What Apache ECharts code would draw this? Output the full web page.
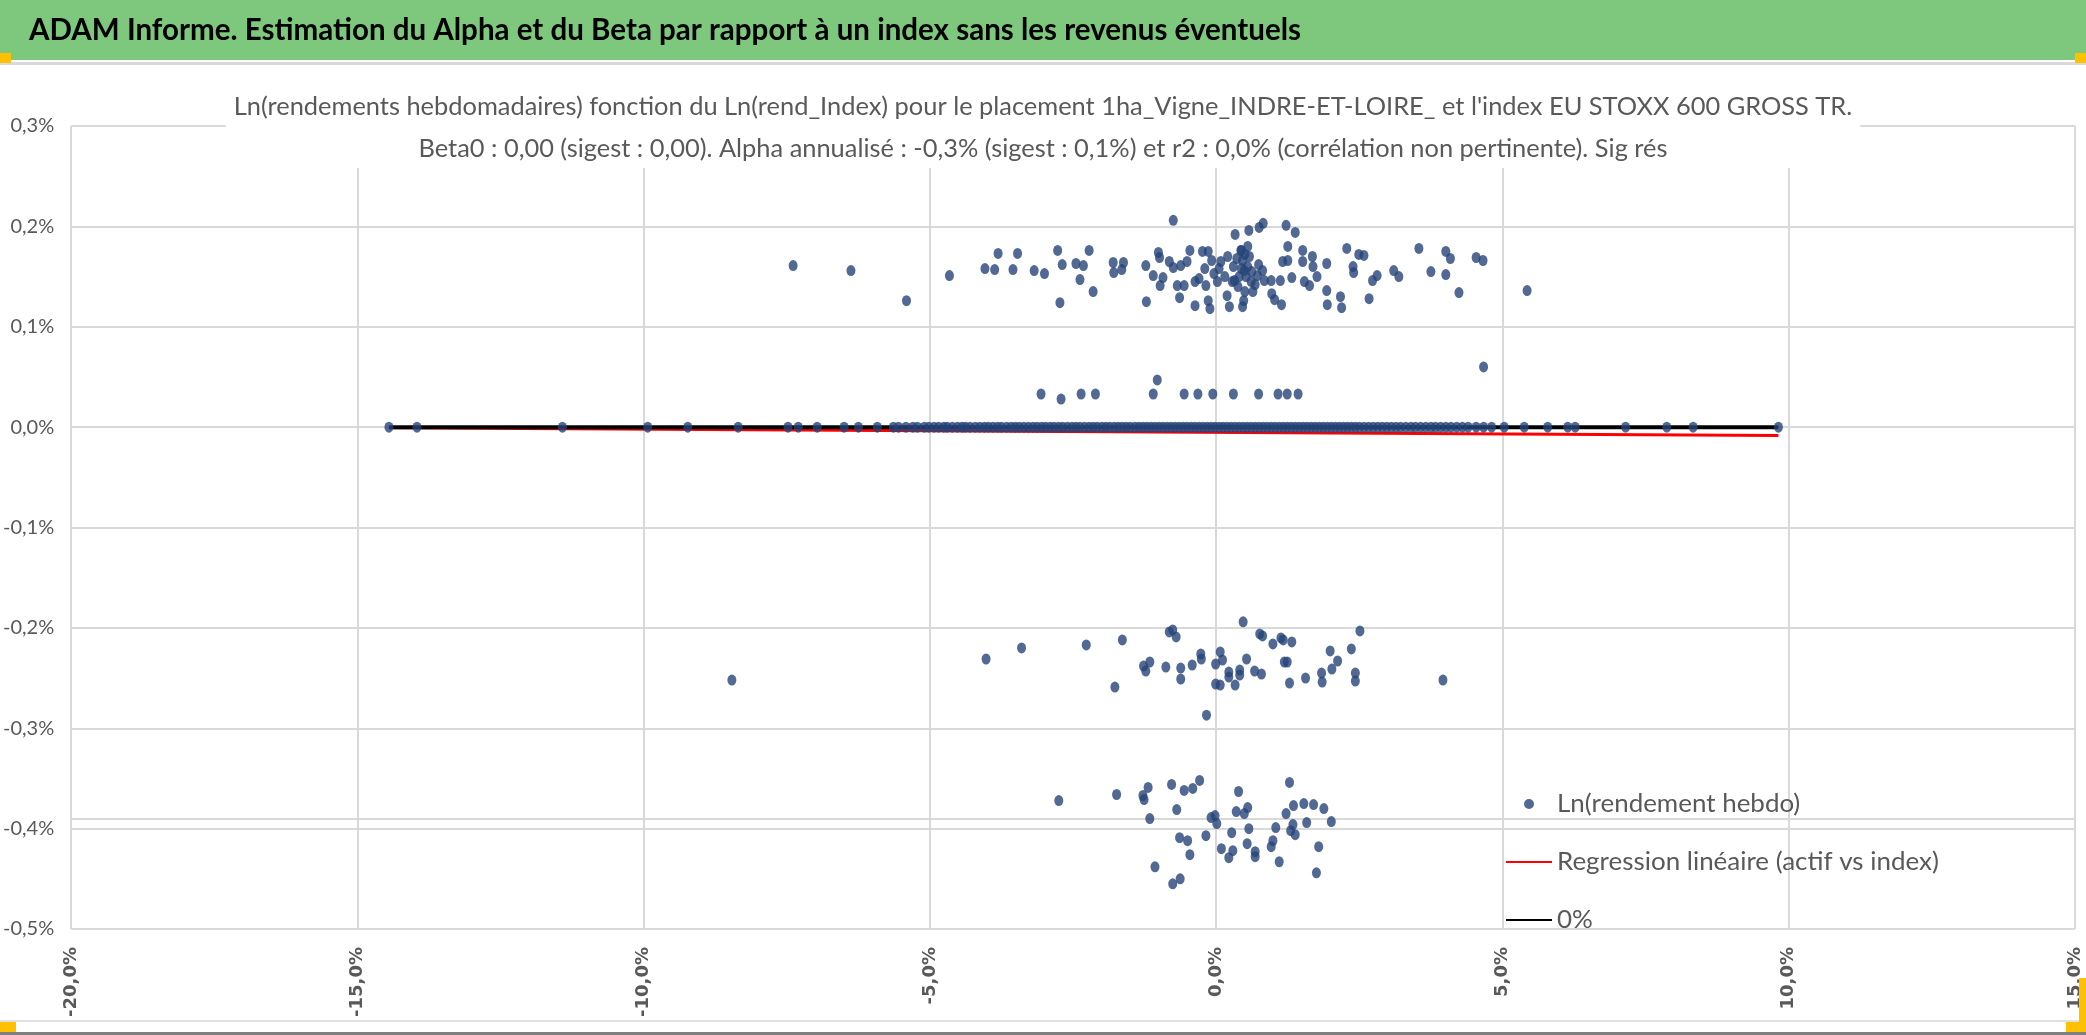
<!DOCTYPE html>
<html>
<head>
<meta charset="utf-8">
<title>ADAM Informe - Alpha Beta</title>
<script src="https://cdn.jsdelivr.net/npm/echarts@6.0.0/dist/echarts.min.js"></script>
<style>
  html, body { margin: 0; padding: 0; background: #fff; }
  #chart { width: 2086px; height: 1035px; }
</style>
</head>
<body>
<div id="chart"></div>
<script>
// valeurs en % (x = Ln(rend_Index), y = Ln(rendement hebdo))
const xTicks = [-20, -15, -10, -5, 0, 5, 10, 15];
const yTicks = [-0.5, -0.4, -0.3, -0.2, -0.1, 0, 0.1, 0.2, 0.3];

// nuage du haut (~0,12% a 0,21%)
const upperPts = [
  [-7.39,0.161],[-6.38,0.156],[-5.41,0.126],[-4.66,0.151],[-4.04,0.158],[-3.87,0.157],[-3.81,0.173],
  [-3.55,0.157],[-3.47,0.173],[-3.18,0.156],[-3.00,0.153],[-2.77,0.176],[-2.69,0.162],[-2.73,0.124],
  [-2.45,0.163],[-2.32,0.161],[-2.38,0.147],[-2.22,0.176],[-2.15,0.135],[-1.80,0.164],[-1.79,0.154],
  [-1.62,0.164],[-1.65,0.157],[-1.23,0.161],[-1.22,0.125],[-1.10,0.151],[-1.01,0.174],[-0.99,0.169],
  [-0.93,0.149],[-0.98,0.141],[-0.82,0.165],[-0.75,0.159],[-0.75,0.206],[-0.64,0.129],[-0.62,0.161],
  [-0.51,0.165],[-0.46,0.176],[-0.68,0.141],[-0.56,0.141],[-0.37,0.121],[-0.37,0.145],[-0.24,0.175],
  [-0.14,0.175],[-0.18,0.141],[-0.14,0.126],[-0.11,0.118],[-0.08,0.166],[-0.04,0.153],[0.02,0.145],
  [0.08,0.165],[0.20,0.170],[0.19,0.131],[0.23,0.120],[0.32,0.146],[0.33,0.192],[0.43,0.176],
  [0.46,0.166],[0.49,0.156],[0.48,0.126],[0.46,0.120],[0.55,0.180],[0.57,0.196],[0.55,0.160],
  [0.61,0.145],[0.64,0.135],[0.72,0.151],[0.75,0.199],[0.82,0.203],[0.81,0.156],[0.84,0.146],
  [0.96,0.146],[0.97,0.133],[1.02,0.127],[1.14,0.122],[1.12,0.146],[1.16,0.165],
  [0.30,0.160],[0.36,0.168],[0.40,0.150],[0.44,0.158],[0.52,0.150],[0.58,0.170],[0.62,0.155],
  [0.38,0.140],[0.50,0.135],[0.28,0.145],[0.15,0.150],[0.05,0.158],[-0.20,0.158],[-0.30,0.148],
  [0.68,0.142],[0.74,0.162],[0.44,0.176],[0.50,0.172],
  [1.22,0.201],[1.38,0.194],[1.25,0.180],[1.25,0.166],[1.32,0.149],[1.51,0.176],[1.51,0.165],
  [1.54,0.145],[1.63,0.141],[1.68,0.170],[1.69,0.160],[1.76,0.150],[1.93,0.163],[1.93,0.136],
  [1.94,0.122],[2.17,0.130],[2.19,0.119],[2.28,0.178],[2.39,0.160],[2.40,0.154],[2.49,0.172],
  [2.58,0.171],[2.67,0.128],[2.73,0.146],[2.81,0.151],[3.10,0.156],[3.19,0.150],[3.54,0.178],
  [3.75,0.155],[4.01,0.175],[4.09,0.168],[4.01,0.152],[4.24,0.134],[4.54,0.169],[4.66,0.166],
  [5.43,0.136]
];

// petite ligne vers 0,03%
const midPts = [
  [-3.06,0.033],[-2.71,0.028],[-2.36,0.033],[-2.11,0.033],[-1.10,0.033],[-1.03,0.047],[-0.56,0.033],
  [-0.32,0.033],[-0.06,0.033],[0.30,0.033],[0.74,0.033],[1.08,0.033],[1.24,0.033],[1.43,0.033],
  [4.67,0.060]
];

// semaines a rendement nul (y = 0)
const zeroX = [
  -14.45,-13.96,-11.42,-9.93,-9.23,-8.35,-7.48,-7.30,-6.97,-6.50,-6.25,-5.92,-5.64,-5.55,-5.42,
  -5.30,-5.22,-5.10,-5.02,-4.93,-4.85,-4.76,-4.70,-4.61,-4.52,-4.44,-4.38,-4.30,-4.21,-4.13,-4.05,
  -3.98,-3.90,-3.82,-3.75,-3.66,-3.58,-3.51,-3.44,-3.36,-3.28,-3.20,-3.13,-3.05,-2.98,-2.90,-2.83,
  -2.75,-2.68,-2.60,-2.52,-2.45,-2.38,-2.30,-2.22,-2.15,-2.08,-2.00,-1.93,-1.86,-1.78,-1.71,-1.64,
  -1.57,-1.50,-1.42,-1.35,-1.28,-1.21,-1.14,-1.07,-1.00,-0.93,-0.86,-0.79,-0.72,-0.65,-0.58,-0.51,
  -0.44,-0.37,-0.30,-0.23,-0.16,-0.09,-0.02,0.05,0.12,0.19,0.26,0.33,0.40,0.47,0.54,0.61,0.68,0.75,
  0.82,0.89,0.96,1.03,1.10,1.17,1.24,1.31,1.38,1.45,1.52,1.59,1.66,1.73,1.80,1.87,1.94,2.01,2.08,
  2.15,2.22,2.29,2.36,2.43,2.50,2.58,2.66,2.74,2.82,2.90,2.98,3.06,3.14,3.22,3.31,3.40,3.48,3.57,
  3.66,3.75,3.83,3.92,4.01,4.10,4.20,4.30,4.40,4.54,4.67,4.81,5.03,5.38,5.79,6.14,6.27,7.15,7.87,
  8.33,9.82
];

// nuage vers -0,2% / -0,29%
const lowerPts = [
  [-8.46,-0.252],[-4.02,-0.231],[-3.40,-0.220],[-2.27,-0.217],[-1.77,-0.259],[-1.64,-0.212],
  [-1.27,-0.238],[-1.23,-0.243],[-1.16,-0.234],[-0.88,-0.239],[-0.82,-0.204],[-0.76,-0.202],
  [-0.70,-0.209],[-0.62,-0.240],[-0.62,-0.251],[-0.42,-0.237],[-0.27,-0.226],[-0.26,-0.231],
  [-0.17,-0.287],[-0.01,-0.236],[-0.01,-0.256],[0.07,-0.224],[0.11,-0.232],[0.07,-0.257],
  [0.22,-0.244],[0.22,-0.249],[0.33,-0.257],[0.41,-0.242],[0.41,-0.247],[0.47,-0.194],
  [0.53,-0.231],[0.67,-0.243],[0.76,-0.206],[0.81,-0.208],[0.79,-0.246],[0.99,-0.216],
  [1.13,-0.210],[1.17,-0.212],[1.19,-0.234],[1.24,-0.234],[1.28,-0.255],[1.32,-0.214],
  [1.56,-0.250],[1.84,-0.245],[1.85,-0.254],[2.02,-0.241],[1.99,-0.223],[2.12,-0.233],
  [2.36,-0.221],[2.43,-0.245],[2.43,-0.253],[2.51,-0.203],[3.96,-0.252]
];

// nuage du bas (-0,35% a -0,45%)
const bottomPts = [
  [-2.75,-0.372],[-1.74,-0.366],[-1.28,-0.367],[-1.26,-0.371],[-1.19,-0.359],[-1.16,-0.390],
  [-1.07,-0.438],[-0.78,-0.356],[-0.69,-0.381],[-0.76,-0.455],[-0.63,-0.450],[-0.64,-0.409],
  [-0.56,-0.362],[-0.50,-0.412],[-0.46,-0.426],[-0.41,-0.360],[-0.29,-0.352],[-0.18,-0.407],
  [-0.09,-0.389],[-0.02,-0.387],[0.01,-0.395],[0.09,-0.420],[0.22,-0.429],[0.29,-0.422],
  [0.27,-0.404],[0.39,-0.363],[0.35,-0.383],[0.49,-0.385],[0.55,-0.379],[0.54,-0.415],
  [0.57,-0.400],[0.68,-0.423],[0.68,-0.428],[0.96,-0.418],[0.99,-0.412],[1.04,-0.399],
  [1.10,-0.433],[1.22,-0.385],[1.28,-0.354],[1.35,-0.377],[1.30,-0.402],[1.34,-0.396],
  [1.38,-0.406],[1.53,-0.375],[1.58,-0.394],[1.70,-0.376],[1.79,-0.418],[1.75,-0.444],
  [1.88,-0.380],[2.01,-0.393]
];

// droite de regression et ligne 0%
const regX = [-14.45, 9.82];
const regY = [-0.0006, -0.0083];
const zeroLineX = [-14.45, 9.82];
const zeroLineY = [0, 0];

const BANNER_TXT = 'ADAM Informe. Estimation du Alpha et du Beta par rapport à un index sans les revenus éventuels';
const TITLE_1 = 'Ln(rendements hebdomadaires) fonction du Ln(rend_Index) pour le placement 1ha_Vigne_INDRE-ET-LOIRE_ et l\'index EU STOXX 600 GROSS TR.';
const TITLE_2 = 'Beta0 : 0,00 (sigest : 0,00). Alpha annualisé : -0,3% (sigest : 0,1%) et r2 : 0,0% (corrélation non pertinente). Sig rés';
const LEG_SCAT = 'Ln(rendement hebdo)';
const LEG_REG = 'Regression linéaire (actif vs index)';
const LEG_ZERO = '0%';

const FONT = 'Lato, "Open Sans", sans-serif';
const GREY_TXT = '#595959';
const GRID_COL = '#d9d9d9';

function pct(v, d) {
  return v.toFixed(d).replace('.', ',') + '%';
}

// mesure du texte pour caler les largeurs sur l'original
const ctx = document.createElement('canvas').getContext('2d');
function textW(txt, font) {
  ctx.font = font;
  return ctx.measureText(txt).width;
}
const bannerScale = 1272 / textW(BANNER_TXT, 'bold 31px ' + FONT);
const titleSize = Math.min(30, 26 * 1619 / textW(TITLE_1, '26px ' + FONT));
const legendSize = Math.min(30, 26 * 382 / textW(LEG_REG, '26px ' + FONT));

const scatterData = []
  .concat(upperPts, midPts, zeroX.map(function (x) { return [x, 0]; }), lowerPts, bottomPts);

const chart = echarts.init(document.getElementById('chart'), null, { renderer: 'canvas' });

const option = {
  backgroundColor: '#ffffff',
  animation: false,
  title: {
    text: TITLE_1,
    subtext: TITLE_2,
    left: 'center',
    top: 88,
    padding: [4, 8, 4, 8],
    itemGap: 12,
    backgroundColor: '#ffffff',
    textStyle: { fontFamily: FONT, fontSize: titleSize, fontWeight: 'normal', color: GREY_TXT, lineHeight: 30 },
    subtextStyle: { fontFamily: FONT, fontSize: titleSize, color: GREY_TXT, lineHeight: 30 }
  },
  grid: { left: 69, right: 11, top: 126, bottom: 106, containLabel: false },
  xAxis: {
    type: 'value',
    min: xTicks[0],
    max: xTicks[xTicks.length - 1],
    interval: 5,
    axisLine: { show: false },
    axisTick: { show: false },
    splitLine: { show: true, lineStyle: { color: GRID_COL, width: 2 } },
    axisLabel: {
      rotate: 90,
      margin: 18,
      fontFamily: '"DejaVu Sans", sans-serif',
      fontWeight: 'bold',
      fontSize: 18,
      color: GREY_TXT,
      formatter: function (v) { return pct(v, 1); }
    }
  },
  yAxis: {
    type: 'value',
    min: yTicks[0],
    max: yTicks[yTicks.length - 1],
    interval: 0.1,
    axisLine: { show: false },
    axisTick: { show: false },
    splitLine: { show: true, lineStyle: { color: GRID_COL, width: 2 } },
    axisLabel: {
      margin: 17,
      fontFamily: FONT,
      fontSize: 20,
      color: GREY_TXT,
      formatter: function (v) { return pct(v, 1); }
    }
  },
  legend: {
    orient: 'vertical',
    left: 1500,
    top: 786,
    itemWidth: 46,
    itemHeight: 10,
    itemGap: 32,
    textStyle: { fontFamily: FONT, fontSize: legendSize, color: GREY_TXT },
    data: [
      { name: LEG_SCAT, icon: 'circle' },
      { name: LEG_REG, itemStyle: { opacity: 0 } },
      { name: LEG_ZERO, itemStyle: { opacity: 0 } }
    ]
  },
  series: [
    {
      name: LEG_REG,
      type: 'line',
      symbol: 'none',
      z: 2,
      data: regX.map(function (x, i) { return [x, regY[i]]; }),
      lineStyle: { color: '#ff0000', width: 3 },
      itemStyle: { color: '#ff0000' }
    },
    {
      name: LEG_ZERO,
      type: 'line',
      symbol: 'none',
      z: 3,
      data: zeroLineX.map(function (x, i) { return [x, zeroLineY[i]]; }),
      lineStyle: { color: '#000000', width: 4 },
      itemStyle: { color: '#000000' },
      // double trait horizontal visible vers -0,39% sur l'original
      markLine: {
        silent: true,
        symbol: 'none',
        label: { show: false },
        lineStyle: { color: GRID_COL, width: 2, type: 'solid' },
        data: [{ yAxis: -0.3875 }]
      }
    },
    {
      name: LEG_SCAT,
      type: 'scatter',
      z: 5,
      symbol: 'circle',
      symbolSize: [9, 11],
      itemStyle: { color: '#264478' },
      data: scatterData
    }
  ],
  graphic: [
    // bandeau vert du haut
    { type: 'rect', left: 0, top: 0, shape: { width: 2086, height: 60 }, style: { fill: '#7dc87d' }, z: 10 },
    {
      type: 'text', x: 29, y: 30, scaleX: bannerScale, z: 11,
      style: { text: BANNER_TXT, fill: '#000', font: 'bold 31px ' + FONT, verticalAlign: 'middle' }
    },
    { type: 'rect', left: 0, top: 62, shape: { width: 2086, height: 3 }, style: { fill: '#d9d9d9' }, z: 10 },
    // poignees orange
    { type: 'rect', left: 0, top: 53, shape: { width: 11, height: 10 }, style: { fill: '#ffc000' }, z: 12 },
    { type: 'rect', left: 2075, top: 53, shape: { width: 11, height: 10 }, style: { fill: '#ffc000' }, z: 12 },
    { type: 'rect', left: 0, top: 1022, shape: { width: 16, height: 10 }, style: { fill: '#ffc000' }, z: 12 },
    { type: 'rect', left: 2079, top: 978, shape: { width: 7, height: 54 }, style: { fill: '#ffc000' }, z: 12 },
    { type: 'rect', left: 2066, top: 1022, shape: { width: 20, height: 10 }, style: { fill: '#ffc000' }, z: 12 },
    // bords du bas
    { type: 'rect', left: 0, top: 1020, shape: { width: 2086, height: 2 }, style: { fill: '#e0e0e0' }, z: 9 },
    { type: 'rect', left: 0, top: 1032, shape: { width: 2086, height: 3 }, style: { fill: '#7f7f7f' }, z: 9 }
  ]
};

chart.setOption(option);
</script>
</body>
</html>
